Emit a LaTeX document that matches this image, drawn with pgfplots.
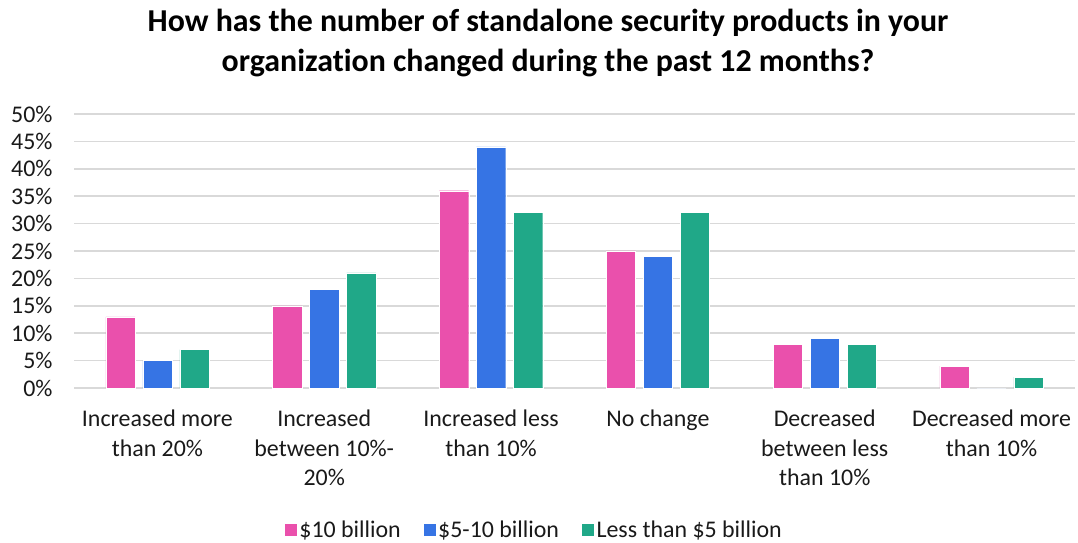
\documentclass[border=0pt]{standalone}
\usepackage{pgfplots}
\pgfplotsset{compat=1.18}
\usepackage{pgfplotstable}
\usepackage{fontspec}
\setmainfont{Carlito}[Ligatures=NoCommon]
\definecolor{cpink}{RGB}{234,80,172}
\definecolor{cblue}{RGB}{54,116,228}
\definecolor{cgreen}{RGB}{32,168,136}
\definecolor{cgrid}{RGB}{217,217,217}
\pgfplotstableread{
x a b c
0 13 5 7
1 15 18 21
2 36 44 32
3 25 24 32
4 8 9 8
5 4 0 2
}\datatable
\begin{document}
\begin{tikzpicture}
\path[use as bounding box] (0,0) rectangle (1078bp,543bp);
\node[font=\fontsize{32}{40}\selectfont\bfseries, align=center] at (548bp,500bp)
  {How has the number of standalone security products in your\\organization changed during the past 12 months?};
\begin{axis}[
  at={(74bp,155bp)}, anchor=south west,
  scale only axis, width=1001bp, height=274bp,
  xmin=-0.5, xmax=5.5, ymin=0, ymax=50,
  axis line style={draw=none},
  axis x line*=bottom,
  ytick={0,5,...,50},
  yticklabels={0\%,5\%,10\%,15\%,20\%,25\%,30\%,35\%,40\%,45\%,50\%},
  ymajorgrids, grid style={cgrid, line width=1.5bp},
  major tick length=0pt,
  xtick={0,...,5},
  xticklabels={{Increased more\\than 20\%},{Increased\\between 10\%-\\20\%},{Increased less\\than 10\%},{No change},{Decreased\\between less\\than 10\%},{Decreased more\\than 10\%}},
  ticklabel style={font=\fontsize{24}{30}\selectfont, text=black!90},
  xticklabel style={align=center, yshift=-18bp},
  yticklabel style={xshift=-18bp},
  ybar=7.7bp, bar width=29.3bp,
  every axis plot/.append style={draw=white, line width=0.4bp},
  legend style={at={(0.4595,-0.518)}, anchor=center, draw=none, font=\fontsize{24}{28}\selectfont, text=black!90,
    legend columns=3, /tikz/every even column/.append style={column sep=20bp}},
  legend image code/.code={\fill[#1] (-3bp,-6.5bp) rectangle (10bp,6.5bp);},
  legend cell align=left,
  clip=false,
  extra y ticks={0}, extra y tick labels={},
  extra y tick style={grid style={cgrid, line width=1.8bp}},
]
\addplot[fill=cpink] table[x=x,y=a]{\datatable};
\addplot[fill=cblue] table[x=x,y=b]{\datatable};
\addplot[fill=cgreen] table[x=x,y=c]{\datatable};
\legend{\$10 billion,\$5-10 billion,Less than \$5 billion}
\end{axis}
\end{tikzpicture}
\end{document}
